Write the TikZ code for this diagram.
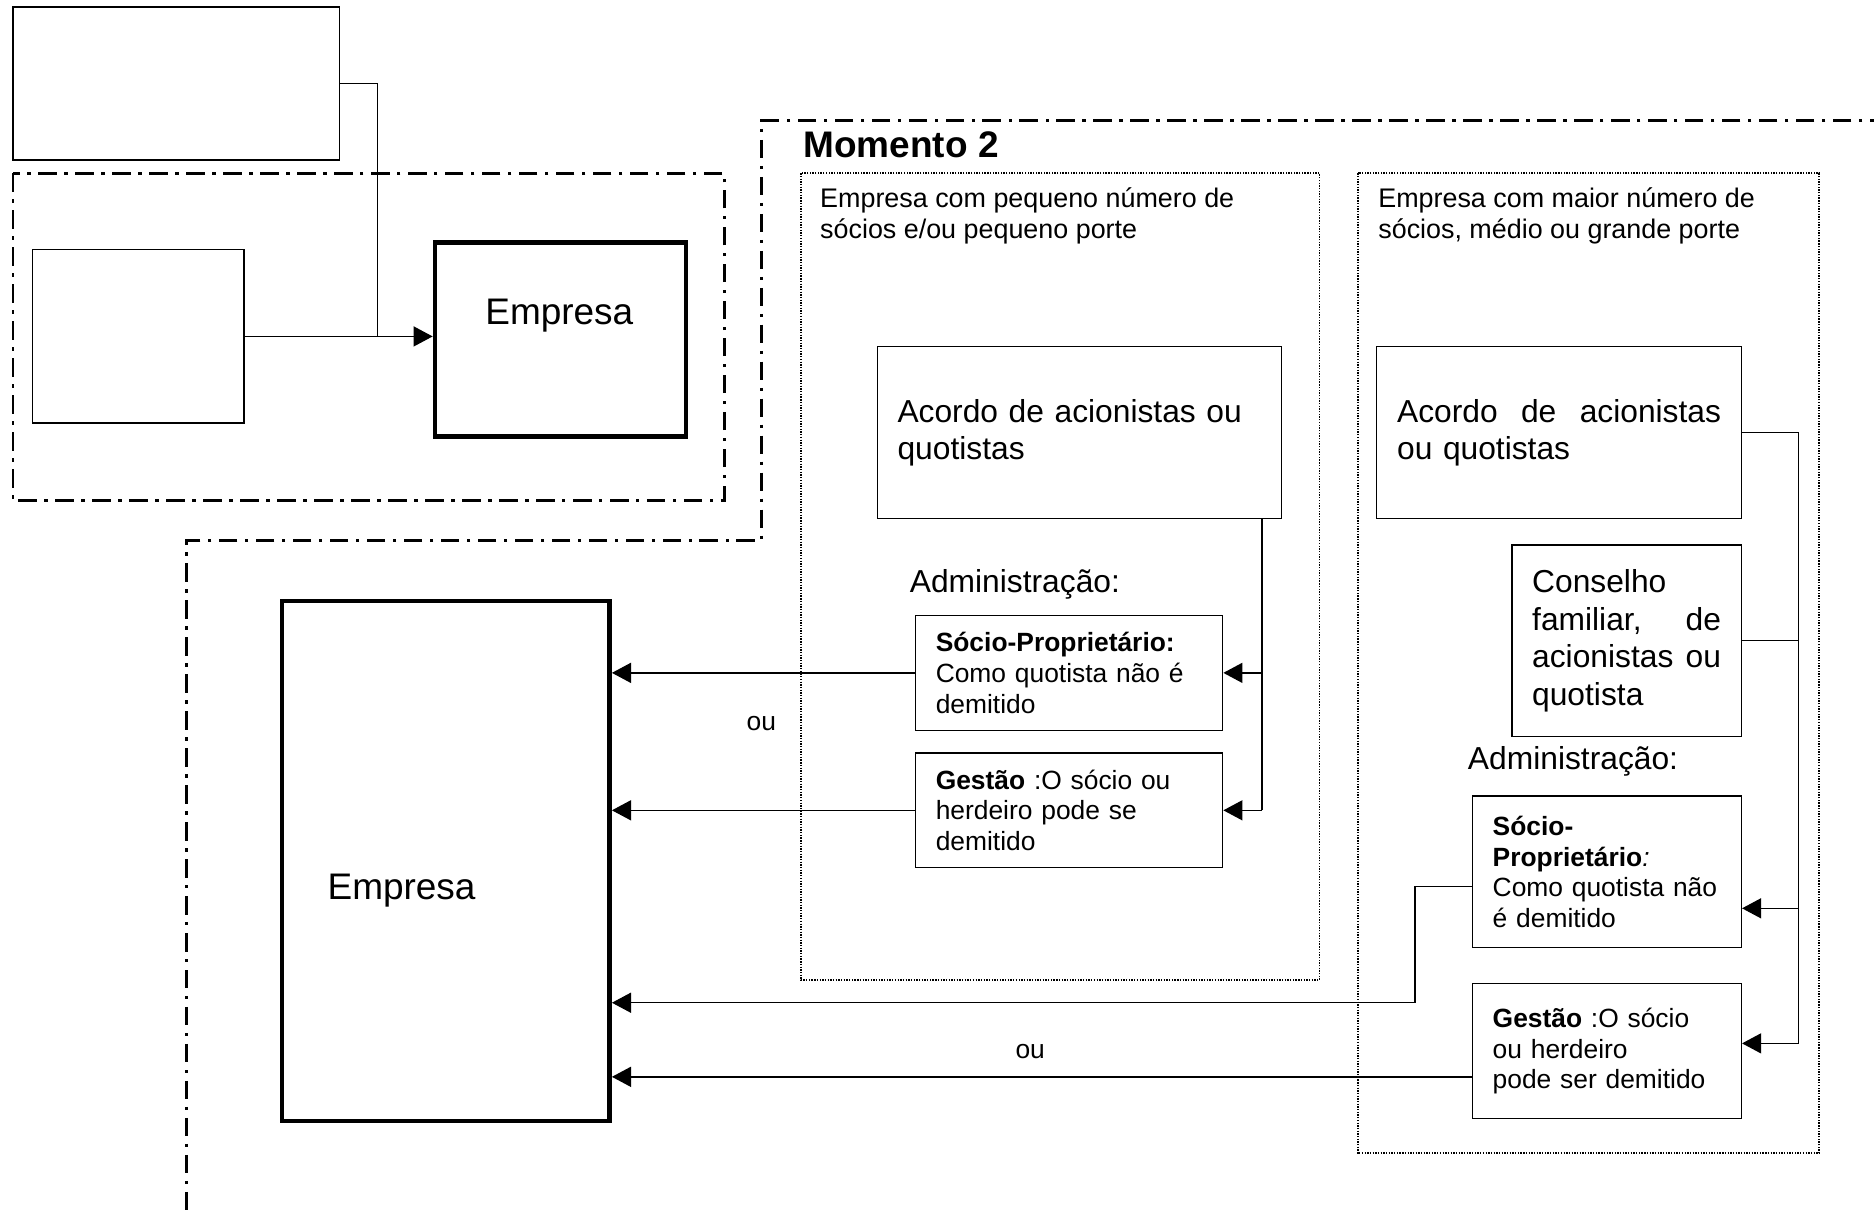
\documentclass[tikz,border=0pt]{standalone}
\usepackage{fontspec}
\setmainfont{Liberation Sans}
\usetikzlibrary{arrows.meta,calc}

\begin{document}
\begin{tikzpicture}[x=0.025cm,y=-0.025cm,
  box/.style={draw,line width=0.8pt,inner xsep=0.425cm,inner ysep=0pt,align=left},
  thickbox/.style={draw,line width=2.8pt,inner sep=0pt},
  plainbox/.style={draw,line width=0.8pt,inner sep=0pt},
  dotframe/.style={line width=1pt,dash pattern=on 0.8pt off 0.8pt},
  ddline/.style={line width=1.6pt,dash pattern=on 11pt off 4.5pt on 2pt off 4.5pt},
  conn/.style={line width=0.8pt},
  arr/.style={-{Triangle[length=0.4cm,width=0.42cm]},line width=0.8pt},
  txtbig/.style={font=\fontsize{18.9}{22.3}\selectfont},
  txtsmall/.style={font=\fontsize{15.7}{18.2}\selectfont},
  txthead/.style={font=\fontsize{16}{18}\selectfont},
  txtemp/.style={font=\fontsize{22}{26}\selectfont,inner sep=0pt}]
  \useasboundingbox (0,0) rectangle (1568,1012);

  % Momento 1
  \draw[ddline] (11,145) rectangle (606,419);
  \node[plainbox,minimum width=6.825cm,minimum height=3.2cm] (topbox) at (147.5,70) {};
  \node[plainbox,minimum width=4.425cm,minimum height=3.625cm] (leftbox) at (115.5,281.5) {};
  \node[thickbox,minimum width=5.25cm,minimum height=4.05cm] (emp1) at (469,284) {};
  \node[txtemp] (emp1lbl) at (468,264) {Empresa};
  \coordinate (jA) at (316,0);
  \draw[conn] (topbox.east) -| (jA |- leftbox.east);
  \draw[arr] (leftbox.east) -- (leftbox.east -| emp1.west);

  % Momento 2
  \draw[ddline] (1580,101) -- (637,101) -- (637,452) -- (156,452) -- (156,1020);
  \node[font=\fontsize{22}{26}\selectfont\bfseries,anchor=west,inner sep=0pt] (mom2) at (672,121) {Momento 2};
  \draw[dotframe] (670,145) rectangle (1104,820);
  \draw[dotframe] (1136,145) rectangle (1522,965);
  \node[txthead,align=left,anchor=north west,inner sep=0pt] (headA) at (686,157) {Empresa com pequeno número de\\sócios e/ou pequeno porte};
  \node[txthead,align=left,anchor=north west,inner sep=0pt] (headB) at (1153,157) {Empresa com maior número de\\sócios, médio ou grande porte};

  % Empresa
  \node[thickbox,minimum width=6.85cm,minimum height=10.875cm] (emp2) at (373,720.5) {};
  \node[txtemp] (emp2lbl) at (336,745) {Empresa};

  % pequeno porte
  \node[box,txtbig,text width=7.6cm,minimum width=8.45cm,minimum height=3.6cm] (acA) at (903,362) {Acordo de acionistas ou\\quotistas};
  \node[txtbig,anchor=west,inner sep=0pt] (admA) at (761,489) {Administração:};
  \node[box,txtsmall,text width=5.575cm,minimum width=6.425cm,minimum height=2.4cm] (socA) at (894.5,563) {\textbf{Sócio-Proprietário:}\\Como quotista não é\\demitido};
  \node[box,txtsmall,text width=5.575cm,minimum width=6.425cm,minimum height=2.4cm] (gesA) at (894.5,678) {\textbf{Gestão} :O sócio ou\\herdeiro pode se\\demitido};
  \coordinate (busA) at (1056,678);
  \draw[conn] (acA.south -| busA) -- (busA);
  \draw[arr] (busA |- socA.east) -- (socA.east);
  \draw[arr] (busA) -- (gesA.east);
  \draw[arr] (socA.west) -- (socA.west -| emp2.east);
  \draw[arr] (gesA.west) -- (gesA.west -| emp2.east);
  \node[txtsmall] (ouA) at (637,605) {ou};

  % medio ou grande porte
  \node[box,txtbig,text width=6.775cm,minimum width=7.625cm,minimum height=3.6cm] (acB) at (1304.5,362) {Acordo\hfill de\hfill acionistas\\ou quotistas};
  \node[box,txtbig,text width=3.95cm,minimum width=4.8cm,minimum height=4cm] (cons) at (1361,536) {Conselho\\familiar,\hfill de\\acionistas\hfill ou\\quotista};
  \node[txtbig,anchor=west,inner sep=0pt] (admB) at (1228,637) {Administração:};
  \node[box,txtsmall,text width=4.775cm,minimum width=5.625cm,minimum height=3.175cm] (socB) at (1344.5,729.5) {\textbf{Sócio-}\\\textbf{Proprietário}\textit{:}\\Como quotista não\\é demitido};
  \node[box,txtsmall,text width=4.775cm,minimum width=5.625cm,minimum height=2.825cm] (gesB) at (1344.5,879.5) {\textbf{Gestão} :O sócio\\ou herdeiro\\pode ser demitido};
  \coordinate (busB) at (1505,873);
  \draw[conn] (acB.east) -| (busB);
  \draw[conn] (cons.east) -- (cons.east -| busB);
  \draw[arr] (busB |- 0,760) -- (socB.east |- 0,760);
  \draw[arr] (busB) -- (busB -| gesB.east);
  \coordinate (bendB) at (1184,839);
  \draw[arr] (socB.west |- 0,742) -| (bendB) -- (bendB -| emp2.east);
  \draw[arr] (gesB.west |- 0,901) -- (emp2.east |- 0,901);
  \node[txtsmall] (ouB) at (862,880) {ou};
\end{tikzpicture}
\end{document}
